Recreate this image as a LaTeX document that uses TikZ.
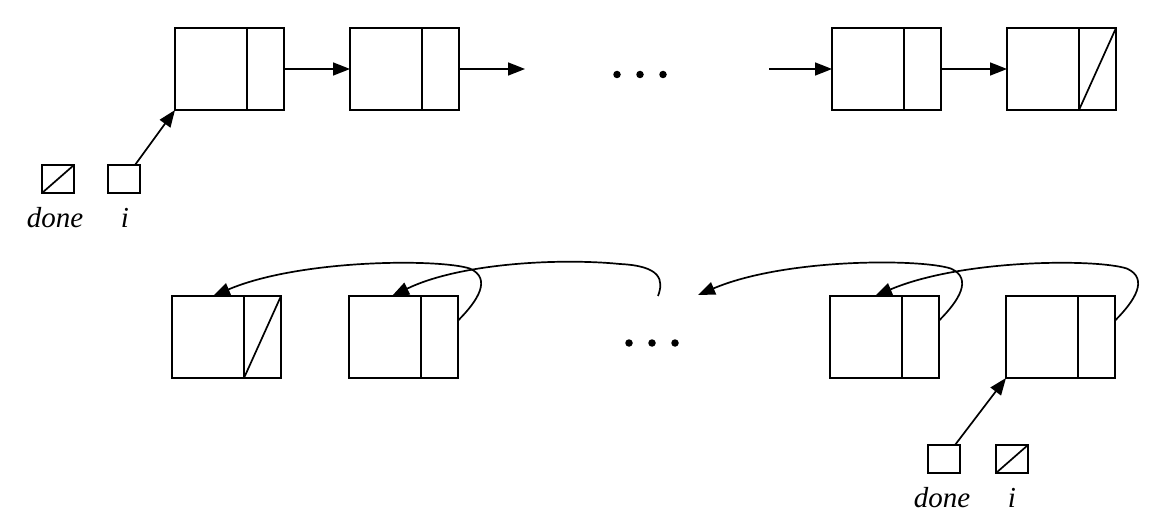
\documentclass[tikz,border=0pt]{standalone}
\usepackage{fontspec}
\setmainfont{Liberation Serif}
\usetikzlibrary{arrows.meta,calc}
\begin{document}
\begin{tikzpicture}[x=1pt,y=-1pt,
  lw/.style={line width=1.7pt},
  lcell/.style={draw,lw,rectangle,inner sep=0,outer sep=0,minimum width=72pt,minimum height=82pt,anchor=north west},
  rcell/.style={draw,lw,rectangle,inner sep=0,outer sep=0,minimum width=37pt,minimum height=82pt,anchor=west},
  sbox/.style={draw,lw,rectangle,inner sep=0,outer sep=0,minimum width=32pt,minimum height=28pt,anchor=north west},
  lbl/.style={font=\fontsize{29}{32}\selectfont\itshape,anchor=base,inner sep=0},
  arr/.style={lw,-{Triangle[length=17pt,width=13pt]}},
  dotc/.style={circle,fill=black,inner sep=0,minimum size=7.5pt}]
\useasboundingbox (0,0) rectangle (1171,524);
% top row
\node[lcell] (t1l) at (175,28) {};
\node[rcell] (t1r) at (t1l.east) {};
\node[lcell] (t2l) at (350,28) {};
\node[rcell] (t2r) at (t2l.east) {};
\node[lcell] (t3l) at (832,28) {};
\node[rcell] (t3r) at (t3l.east) {};
\node[lcell] (t4l) at (1007,28) {};
\node[rcell] (t4r) at (t4l.east) {};
\draw[lw] (t4r.south west) -- (t4r.north east);
\coordinate (t2out) at (525,69);
\coordinate (t3in) at (769,69);
\draw[arr] (t1r.east) -- (t2l.west);
\draw[arr] (t2r.east) -- (t2out);
\draw[arr] (t3in) -- (t3l.west);
\draw[arr] (t3r.east) -- (t4l.west);
\node[dotc] (d1) at (617,74.5) {};
\node[dotc] (d2) at (640,74.5) {};
\node[dotc] (d3) at (663,74.5) {};
% top pointers
\node[sbox] (done1) at (42,165) {};
\node[sbox] (i1) at (108,165) {};
\draw[lw] (done1.south west) -- (done1.north east);
\node[lbl] (ldone1) at (55,228) {done};
\node[lbl] (li1) at (125,228) {i};
\draw[arr] ($(i1.north west)+(27,0)$) -- (t1l.south west);
% bottom row
\node[lcell] (bAl) at (172,296) {};
\node[rcell] (bAr) at (bAl.east) {};
\node[lcell] (bBl) at (349,296) {};
\node[rcell] (bBr) at (bBl.east) {};
\node[lcell] (bCl) at (830,296) {};
\node[rcell] (bCr) at (bCl.east) {};
\node[lcell] (bDl) at (1006,296) {};
\node[rcell] (bDr) at (bDl.east) {};
\draw[lw] (bAr.south west) -- (bAr.north east);
\node[dotc] (e1) at (629,343) {};
\node[dotc] (e2) at (652,343) {};
\node[dotc] (e3) at (675,343) {};
% curved back links
\coordinate (sA) at ($(bBr.north east)!0.3!(bBr.south east)$);
\coordinate (eA) at ($(bAl.north)+(5,0)$);
\draw[arr] (sA) .. controls ($(sA)+(20,-20)$) and ($(sA)+(34,-42)$) .. ($(sA)+(12,-52)$)
  .. controls ($(sA)+(-18,-62)$) and ($(eA)+(87,-37)$) .. (eA);
\coordinate (sB) at (658,296);
\coordinate (eB) at ($(bBl.north)+(7,0)$);
\draw[arr] (sB) .. controls ($(sB)+(6,-16)$) and ($(sB)+(3,-30)$) .. ($(sB)+(-38,-32)$)
  .. controls ($(sB)+(-98,-38)$) and ($(eB)+(68,-33)$) .. (eB);
\coordinate (sC) at ($(bDr.north east)!0.3!(bDr.south east)$);
\coordinate (eC) at ($(bCl.north)+(9,0)$);
\draw[arr] (sC) .. controls ($(sC)+(20,-20)$) and ($(sC)+(34,-42)$) .. ($(sC)+(12,-52)$)
  .. controls ($(sC)+(-18,-62)$) and ($(eC)+(87,-37)$) .. (eC);
\coordinate (sD) at ($(bCr.north east)!0.3!(bCr.south east)$);
\coordinate (eD) at (698,295);
\draw[arr] (sD) .. controls ($(sD)+(20,-20)$) and ($(sD)+(34,-42)$) .. ($(sD)+(12,-52)$)
  .. controls ($(sD)+(-18,-62)$) and ($(eD)+(87,-37)$) .. (eD);
% bottom pointers
\node[sbox] (done2) at (928,445) {};
\node[sbox] (i2) at (996,445) {};
\draw[lw] (i2.south west) -- (i2.north east);
\node[lbl] (ldone2) at (942,507) {done};
\node[lbl] (li2) at (1012,507) {i};
\draw[arr] ($(done2.north west)+(27,0)$) -- (bDl.south west);
\end{tikzpicture}
\end{document}
